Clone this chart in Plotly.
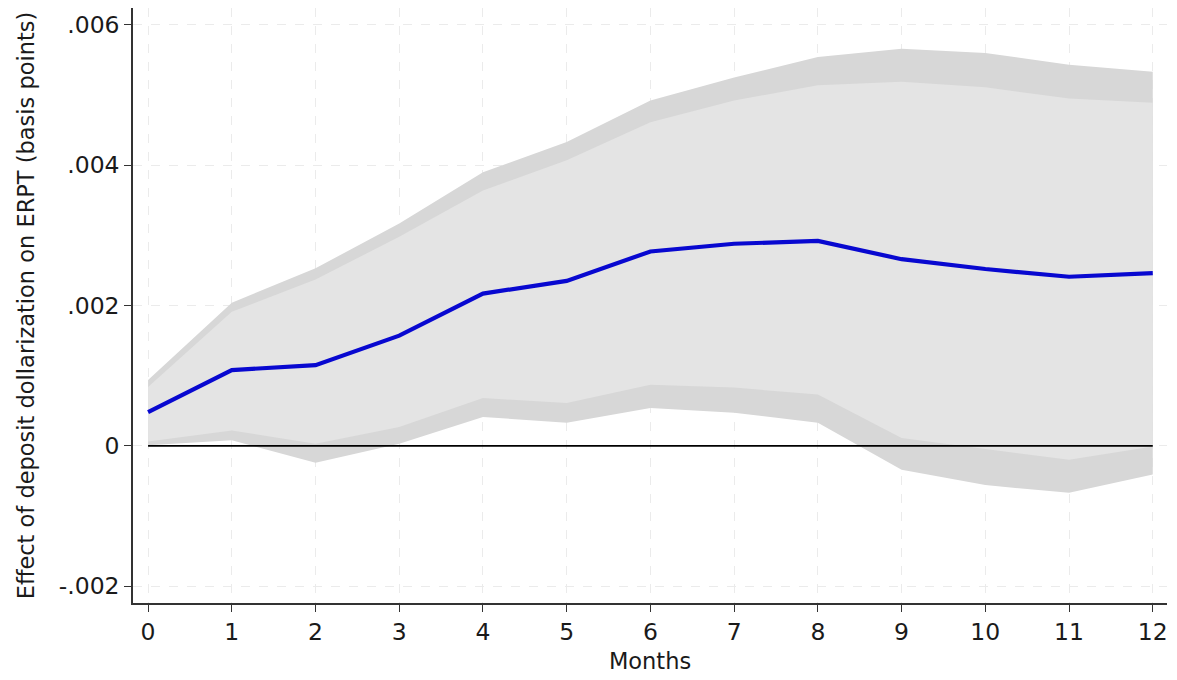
import plotly.graph_objects as go

months = list(range(13))
effect = [0.00048, 0.00108, 0.00115, 0.00157, 0.00217, 0.00235, 0.00277, 0.00288, 0.00292, 0.00266, 0.00252, 0.00241, 0.00246]
outer_upper = [0.00094, 0.00204, 0.00253, 0.00317, 0.00390, 0.00433, 0.00492, 0.00525, 0.00554, 0.00566, 0.00560, 0.00543, 0.00533]
inner_upper = [0.00084, 0.00191, 0.00237, 0.00298, 0.00364, 0.00407, 0.00461, 0.00492, 0.00514, 0.00519, 0.00511, 0.00495, 0.00489]
inner_lower = [0.00006, 0.00022, 0.00003, 0.00027, 0.00068, 0.00061, 0.00087, 0.00083, 0.00073, 0.00011, -0.00004, -0.00020, -0.00001]
outer_lower = [0.00001, 0.00008, -0.00024, 0.00003, 0.00041, 0.00033, 0.00054, 0.00047, 0.00033, -0.00034, -0.00056, -0.00067, -0.00041]

y_tickvals = [-0.002, 0, 0.002, 0.004, 0.006]
y_ticktext = ["-.002", "0", ".002", ".004", ".006"]

font_family = "DejaVu Sans, Liberation Sans, Arial, sans-serif"

fig = go.Figure()

# outer band
fig.add_trace(go.Scatter(
    x=months + months[::-1], y=outer_upper + outer_lower[::-1],
    fill="toself", fillcolor="#d7d7d7", line=dict(width=0), mode="lines",
    hoverinfo="skip", showlegend=False))
# inner band
fig.add_trace(go.Scatter(
    x=months + months[::-1], y=inner_upper + inner_lower[::-1],
    fill="toself", fillcolor="#e4e4e4", line=dict(width=0), mode="lines",
    hoverinfo="skip", showlegend=False))
# zero line
fig.add_trace(go.Scatter(
    x=[months[0], months[-1]], y=[0, 0], mode="lines",
    line=dict(color="black", width=1.8), hoverinfo="skip", showlegend=False))
# point estimate
fig.add_trace(go.Scatter(
    x=months, y=effect, mode="lines",
    line=dict(color="#0808d0", width=4.2), showlegend=False))

fig.update_layout(
    width=1177, height=680,
    margin=dict(l=133, r=10, t=8, b=77),
    paper_bgcolor="white", plot_bgcolor="white",
    font=dict(family=font_family, size=23, color="#1a1a1a"),
    xaxis=dict(
        range=[-0.18, 12.17], tickvals=months, ticktext=[str(m) for m in months],
        showgrid=True, gridcolor="#ebebeb", griddash="dash", gridwidth=1,
        showline=True, linecolor="#333333", linewidth=1.5,
        ticks="outside", ticklen=7, tickcolor="#333333", tickwidth=1.3,
        zeroline=False, tickfont=dict(size=23.5),
        title=dict(text="Months", font=dict(size=22.5), standoff=8),
    ),
    yaxis=dict(
        range=[-0.00224, 0.00624], tickvals=y_tickvals, ticktext=y_ticktext,
        showgrid=True, gridcolor="#ebebeb", griddash="dash", gridwidth=1,
        showline=True, linecolor="#333333", linewidth=1.5,
        ticks="outside", ticklen=7, tickcolor="#333333", tickwidth=1.3,
        zeroline=False, tickfont=dict(size=23.5),
        title=dict(text="Effect of deposit dollarization on ERPT (basis points)",
                   font=dict(size=22.5), standoff=18),
    ),
)

fig.write_html("out.html")
